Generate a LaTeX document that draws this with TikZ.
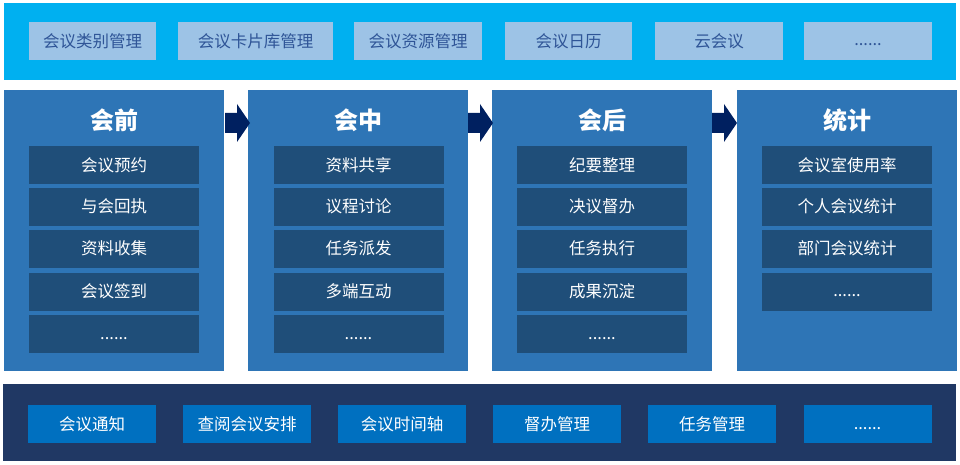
\documentclass[tikz,border=0pt]{standalone}
\usepackage{fontspec}
\setmainfont{Noto Sans CJK SC}
\definecolor{topband}{HTML}{00B0F0}
\definecolor{topbox}{HTML}{9DC3E6}
\definecolor{toptext}{HTML}{2F5597}
\definecolor{panel}{HTML}{2E75B6}
\definecolor{inner}{HTML}{1F4E79}
\definecolor{navy}{HTML}{002060}
\definecolor{botband}{HTML}{203864}
\definecolor{botbox}{HTML}{0070C0}
\newcommand{\lowdots}{\raisebox{0pt}[0pt][0pt]{\raisebox{-5pt}{......}}}
\begin{document}
\begin{tikzpicture}[x=1pt,y=-1pt,
  topitem/.style={fill=topbox,text=toptext,minimum height=38pt,inner sep=0pt,font=\fontsize{16.5}{18}\selectfont},
  panelbox/.style={fill=panel,minimum width=220pt,minimum height=281pt,inner sep=0pt},
  ptitle/.style={text=white,font=\fontsize{24}{26}\selectfont\bfseries},
  item/.style={fill=inner,text=white,minimum width=170pt,minimum height=38pt,inner sep=0pt,font=\fontsize{16.5}{18}\selectfont},
  botitem/.style={fill=botbox,text=white,minimum width=128pt,minimum height=38pt,inner sep=0pt,font=\fontsize{16.5}{18}\selectfont},
  flowarrow/.style={fill=navy}]
\useasboundingbox (0,0) rectangle (960,465);
% top band
\node[fill=topband,minimum width=952pt,minimum height=77pt,inner sep=0pt] (topband) at (480,41.5) {};
\node[topitem,minimum width=127pt] (t1) at (92.5,41) {会议类别管理};
\node[topitem,minimum width=155pt] (t2) at (255.5,41) {会议卡片库管理};
\node[topitem,minimum width=128pt] (t3) at (418,41) {会议资源管理};
\node[topitem,minimum width=127pt] (t4) at (568.5,41) {会议日历};
\node[topitem,minimum width=128pt] (t5) at (719,41) {云会议};
\node[topitem,minimum width=128pt] (t6) at (868,41) {\lowdots};
% panels
\foreach \n/\cx in {1/114,2/358,3/602,4/847}{
  \node[panelbox] (p\n) at (\cx,230.5) {};
}
\node[ptitle] (h1) at (114,120) {会前};
\node[ptitle] (h2) at (358,120) {会中};
\node[ptitle] (h3) at (602,120) {会后};
\node[ptitle] (h4) at (847,120) {统计};
% items
\node[item] (a1) at (114,165) {会议预约};
\node[item] (a2) at (114,206.5) {与会回执};
\node[item] (a3) at (114,248.5) {资料收集};
\node[item] (a4) at (114,291.5) {会议签到};
\node[item] (a5) at (114,334) {\lowdots};
\node[item] (b1) at (358.5,165) {资料共享};
\node[item] (b2) at (358.5,206.5) {议程讨论};
\node[item] (b3) at (358.5,248.5) {任务派发};
\node[item] (b4) at (358.5,291.5) {多端互动};
\node[item] (b5) at (358.5,334) {\lowdots};
\node[item] (c1) at (602,165) {纪要整理};
\node[item] (c2) at (602,206.5) {决议督办};
\node[item] (c3) at (602,248.5) {任务执行};
\node[item] (c4) at (602,291.5) {成果沉淀};
\node[item] (c5) at (602,334) {\lowdots};
\node[item] (d1) at (847,165) {会议室使用率};
\node[item] (d2) at (847,206.5) {个人会议统计};
\node[item] (d3) at (847,248.5) {部门会议统计};
\node[item] (d4) at (847,291.5) {\lowdots};
% arrows
\foreach \x in {225,468,712}{
  \fill[flowarrow] (\x,113) -- ++(12,0) -- ++(0,-9) -- ++(13,19) -- ++(-13,19) -- ++(0,-9) -- ++(-12,0) -- cycle;
}
% bottom band
\node[fill=botband,minimum width=953pt,minimum height=77pt,inner sep=0pt] (botband) at (479.5,422.5) {};
\node[botitem] (s1) at (92,424) {会议通知};
\node[botitem] (s2) at (247,424) {查阅会议安排};
\node[botitem] (s3) at (402,424) {会议时间轴};
\node[botitem] (s4) at (557,424) {督办管理};
\node[botitem] (s5) at (712,424) {任务管理};
\node[botitem] (s6) at (867.5,424) {\lowdots};
\end{tikzpicture}
\end{document}
